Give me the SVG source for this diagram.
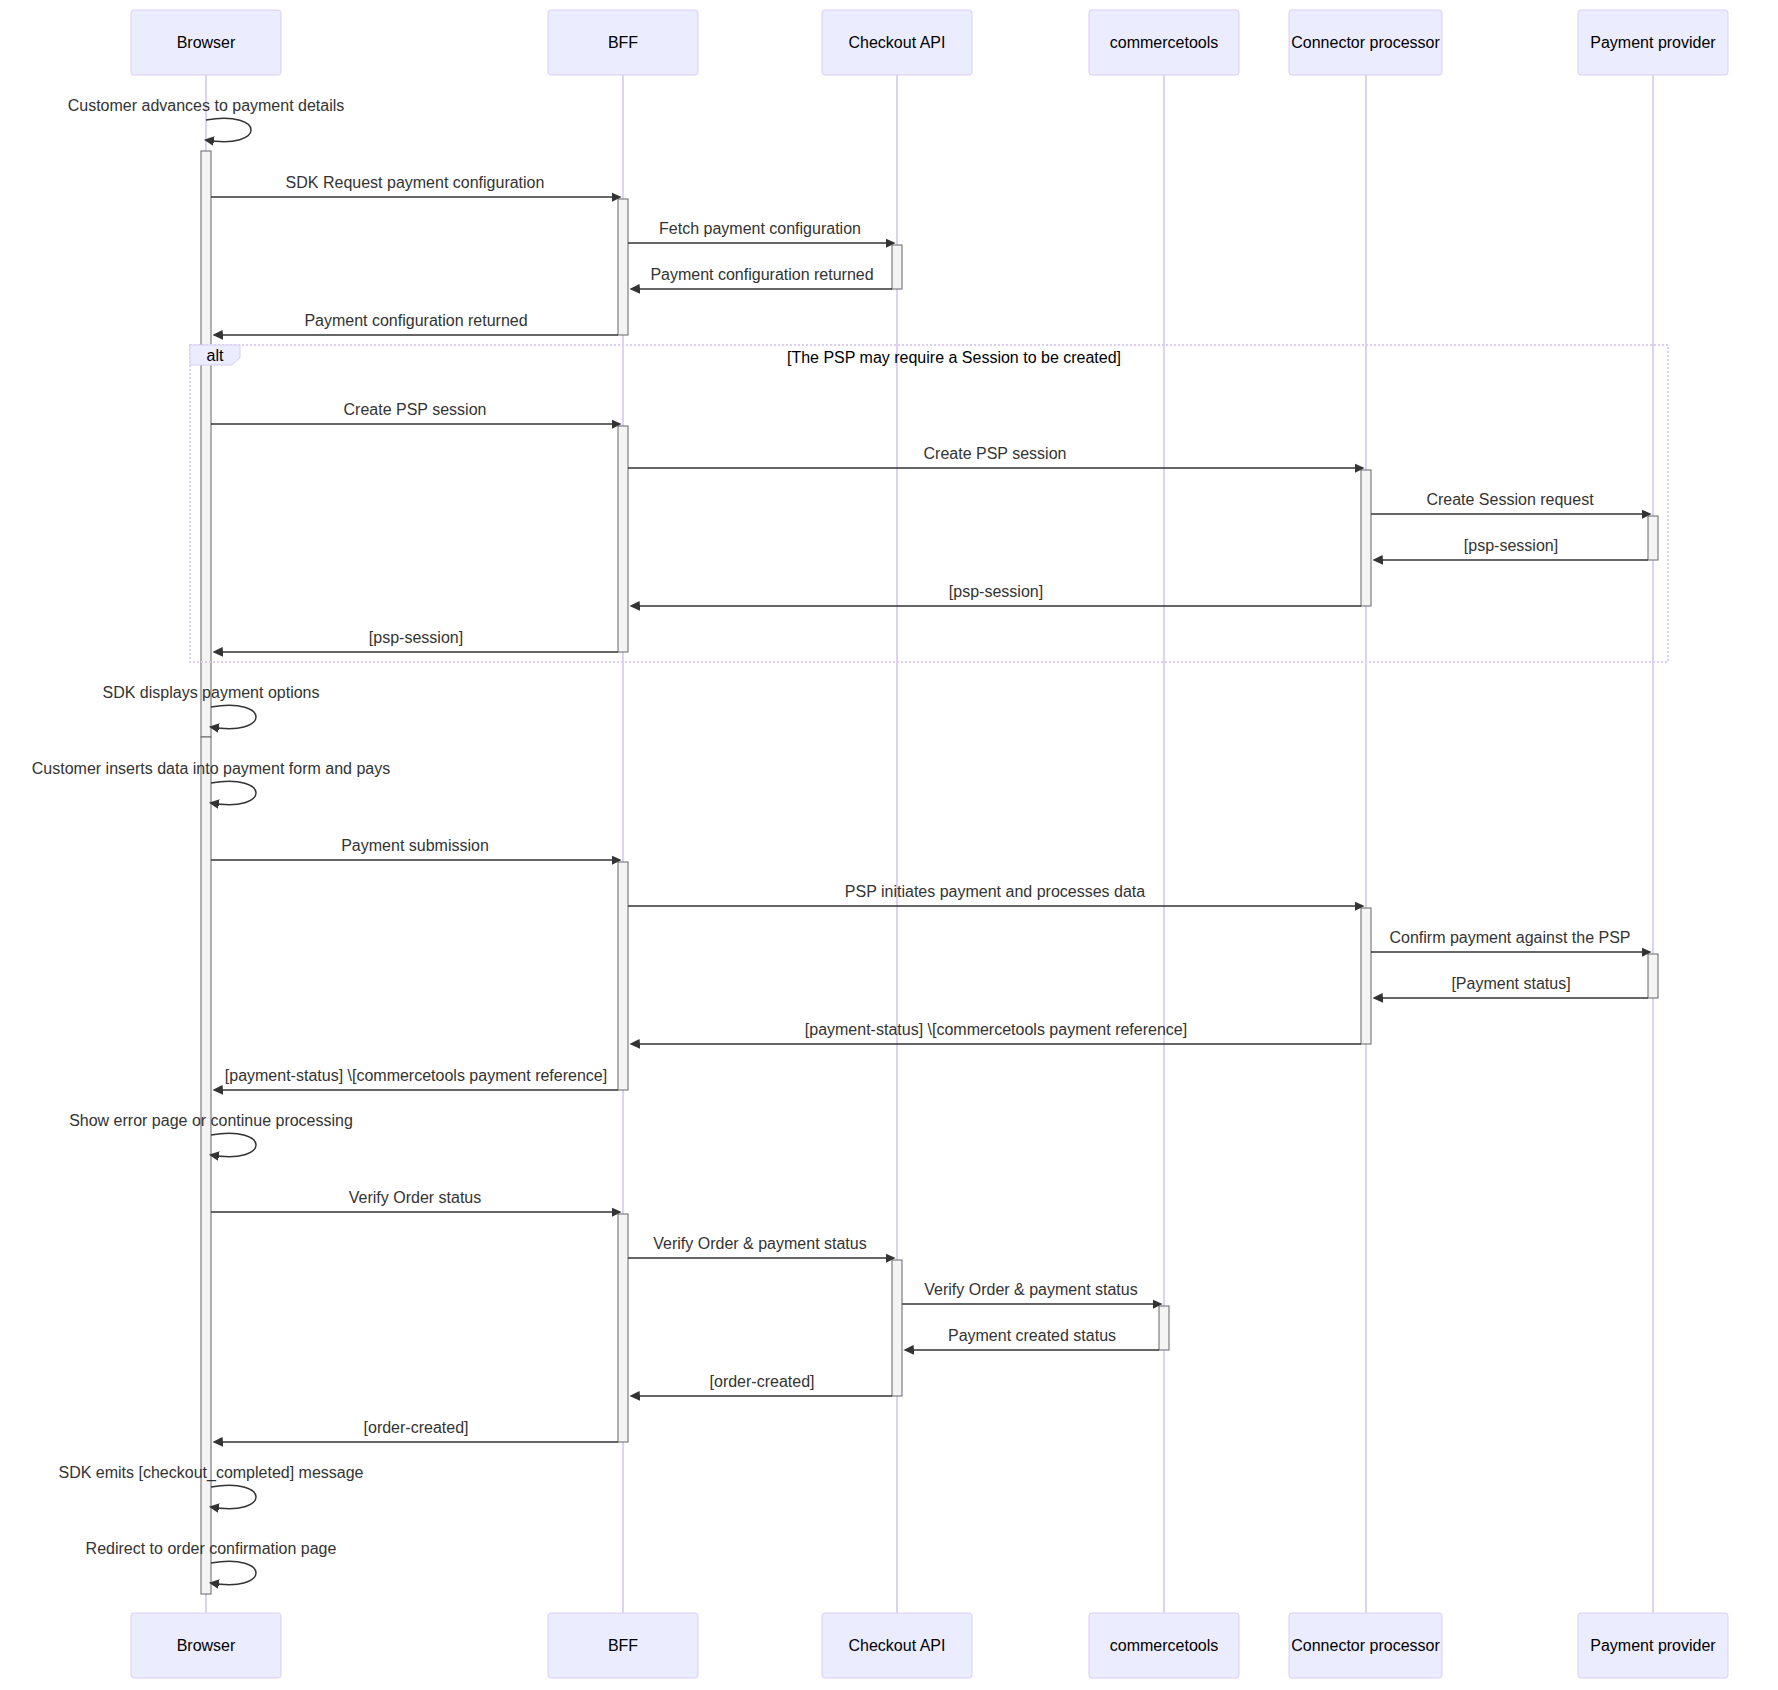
<svg xmlns="http://www.w3.org/2000/svg" width="1778" height="1690" viewBox="0 0 1778 1690">
<style>
text { font-family: "Liberation Sans", Arial, sans-serif; }
.actor rect { fill: #ECECFF; stroke: hsl(259.6, 59.8%, 87.9%); stroke-width: 1; }
.actor text { font-size: 16px; fill: #000; text-anchor: middle; dominant-baseline: central; }
.lifeline { stroke: hsl(259.6, 59.8%, 87.9%); stroke-width: 1.8; }
.act { fill: #f4f4f4; stroke: #666; stroke-width: 1; }
.msg { stroke: #333; stroke-width: 1.5; fill: none; marker-end: url(#arrowhead); }
.mt { font-size: 16px; fill: #333; text-anchor: middle; dominant-baseline: central; }
.loopline { stroke: hsl(259.6, 59.8%, 87.9%); stroke-width: 2; stroke-dasharray: 2 2; fill: none; }
.labelbox { fill: #ECECFF; stroke: hsl(259.6, 59.8%, 87.9%); stroke-width: 1; }
.lt { font-size: 16px; fill: #000; text-anchor: middle; dominant-baseline: central; }
</style>
<defs>
<marker id="arrowhead" refX="7.9" refY="5" markerUnits="userSpaceOnUse" markerWidth="12" markerHeight="12" orient="auto">
<path d="M -1 0 L 10 5 L 0 10 z" fill="#333" stroke="none"/>
</marker>
</defs>
<rect x="0" y="0" width="1778" height="1690" fill="#ffffff"/>

<g id="lifelines">
<line class="lifeline" x1="206" y1="75" x2="206" y2="1613"/>
<line class="lifeline" x1="623" y1="75" x2="623" y2="1613"/>
<line class="lifeline" x1="897" y1="75" x2="897" y2="1613"/>
<line class="lifeline" x1="1164" y1="75" x2="1164" y2="1613"/>
<line class="lifeline" x1="1366" y1="75" x2="1366" y2="1613"/>
<line class="lifeline" x1="1653" y1="75" x2="1653" y2="1613"/>
</g>

<g id="actor-browser" class="actor">
<rect x="131" y="10" width="150" height="65" rx="3"/><text x="206" y="42.5">Browser</text>
<rect x="131" y="1613" width="150" height="65" rx="3"/><text x="206" y="1645.5">Browser</text>
</g>
<g id="actor-bff" class="actor">
<rect x="548" y="10" width="150" height="65" rx="3"/><text x="623" y="42.5">BFF</text>
<rect x="548" y="1613" width="150" height="65" rx="3"/><text x="623" y="1645.5">BFF</text>
</g>
<g id="actor-checkout" class="actor">
<rect x="822" y="10" width="150" height="65" rx="3"/><text x="897" y="42.5">Checkout API</text>
<rect x="822" y="1613" width="150" height="65" rx="3"/><text x="897" y="1645.5">Checkout API</text>
</g>
<g id="actor-commercetools" class="actor">
<rect x="1089" y="10" width="150" height="65" rx="3"/><text x="1164" y="42.5">commercetools</text>
<rect x="1089" y="1613" width="150" height="65" rx="3"/><text x="1164" y="1645.5">commercetools</text>
</g>
<g id="actor-connector" class="actor">
<rect x="1289" y="10" width="153" height="65" rx="3"/><text x="1365.5" y="42.5">Connector processor</text>
<rect x="1289" y="1613" width="153" height="65" rx="3"/><text x="1365.5" y="1645.5">Connector processor</text>
</g>
<g id="actor-psp" class="actor">
<rect x="1578" y="10" width="150" height="65" rx="3"/><text x="1653" y="42.5">Payment provider</text>
<rect x="1578" y="1613" width="150" height="65" rx="3"/><text x="1653" y="1645.5">Payment provider</text>
</g>

<g id="activations">
<rect class="act" x="201" y="151" width="10" height="586"/>
<rect class="act" x="201" y="737" width="10" height="857"/>
<rect class="act" x="618" y="199" width="10" height="136"/>
<rect class="act" x="618" y="426" width="10" height="226"/>
<rect class="act" x="618" y="862" width="10" height="228"/>
<rect class="act" x="618" y="1214" width="10" height="228"/>
<rect class="act" x="892" y="245" width="10" height="44"/>
<rect class="act" x="892" y="1260" width="10" height="136"/>
<rect class="act" x="1159" y="1306" width="10" height="44"/>
<rect class="act" x="1361" y="470" width="10" height="136"/>
<rect class="act" x="1361" y="908" width="10" height="136"/>
<rect class="act" x="1648" y="516" width="10" height="44"/>
<rect class="act" x="1648" y="954" width="10" height="44"/>
</g>

<g id="alt-fragment">
<rect class="loopline" x="190" y="345" width="1478" height="317"/>
<polygon class="labelbox" points="190,345 240,345 240,358 231.6,365 190,365"/>
<text class="lt" x="215" y="355.5">alt</text>
<text class="lt" x="954" y="357">[The PSP may require a Session to be created]</text>
</g>

<g id="connectors">
<text class="mt" x="206" y="105">Customer advances to payment details</text>
<path class="msg" d="M 206,120 C 266,110 266,150 206,140"/>

<text class="mt" x="415" y="182.5">SDK Request payment configuration</text>
<line class="msg" x1="211" y1="197" x2="619.5" y2="197"/>
<text class="mt" x="760" y="228.5">Fetch payment configuration</text>
<line class="msg" x1="628" y1="243" x2="893.5" y2="243"/>
<text class="mt" x="762" y="274.5">Payment configuration returned</text>
<line class="msg" x1="892" y1="289" x2="631.6" y2="289"/>
<text class="mt" x="416" y="320.5">Payment configuration returned</text>
<line class="msg" x1="618" y1="335" x2="214.6" y2="335"/>

<text class="mt" x="415" y="409.5">Create PSP session</text>
<line class="msg" x1="211" y1="424" x2="619.5" y2="424"/>
<text class="mt" x="995" y="453.5">Create PSP session</text>
<line class="msg" x1="628" y1="468" x2="1362.5" y2="468"/>
<text class="mt" x="1510" y="499.5">Create Session request</text>
<line class="msg" x1="1371" y1="514" x2="1649.5" y2="514"/>
<text class="mt" x="1511" y="545.5">[psp-session]</text>
<line class="msg" x1="1648" y1="560" x2="1374.6" y2="560"/>
<text class="mt" x="996" y="591.5">[psp-session]</text>
<line class="msg" x1="1361" y1="606" x2="631.6" y2="606"/>
<text class="mt" x="416" y="637.5">[psp-session]</text>
<line class="msg" x1="618" y1="652" x2="214.6" y2="652"/>

<text class="mt" x="211" y="692.5">SDK displays payment options</text>
<path class="msg" d="M 211,707 C 271,697 271,737 211,727"/>
<text class="mt" x="211" y="768.5">Customer inserts data into payment form and pays</text>
<path class="msg" d="M 211,783 C 271,773 271,813 211,803"/>

<text class="mt" x="415" y="845.5">Payment submission</text>
<line class="msg" x1="211" y1="860" x2="619.5" y2="860"/>
<text class="mt" x="995" y="891.5">PSP initiates payment and processes data</text>
<line class="msg" x1="628" y1="906" x2="1362.5" y2="906"/>
<text class="mt" x="1510" y="937.5">Confirm payment against the PSP</text>
<line class="msg" x1="1371" y1="952" x2="1649.5" y2="952"/>
<text class="mt" x="1511" y="983.5">[Payment status]</text>
<line class="msg" x1="1648" y1="998" x2="1374.6" y2="998"/>
<text class="mt" x="996" y="1029.5">[payment-status] \[commercetools payment reference]</text>
<line class="msg" x1="1361" y1="1044" x2="631.6" y2="1044"/>
<text class="mt" x="416" y="1075.5">[payment-status] \[commercetools payment reference]</text>
<line class="msg" x1="618" y1="1090" x2="214.6" y2="1090"/>

<text class="mt" x="211" y="1120.5">Show error page or continue processing</text>
<path class="msg" d="M 211,1135 C 271,1125 271,1165 211,1155"/>

<text class="mt" x="415" y="1197.5">Verify Order status</text>
<line class="msg" x1="211" y1="1212" x2="619.5" y2="1212"/>
<text class="mt" x="760" y="1243.5">Verify Order &amp; payment status</text>
<line class="msg" x1="628" y1="1258" x2="893.5" y2="1258"/>
<text class="mt" x="1031" y="1289.5">Verify Order &amp; payment status</text>
<line class="msg" x1="902" y1="1304" x2="1160.5" y2="1304"/>
<text class="mt" x="1032" y="1335.5">Payment created status</text>
<line class="msg" x1="1159" y1="1350" x2="905.6" y2="1350"/>
<text class="mt" x="762" y="1381.5">[order-created]</text>
<line class="msg" x1="892" y1="1396" x2="631.6" y2="1396"/>
<text class="mt" x="416" y="1427.5">[order-created]</text>
<line class="msg" x1="618" y1="1442" x2="214.6" y2="1442"/>

<text class="mt" x="211" y="1472.5">SDK emits [checkout_completed] message</text>
<path class="msg" d="M 211,1487 C 271,1477 271,1517 211,1507"/>
<text class="mt" x="211" y="1548.5">Redirect to order confirmation page</text>
<path class="msg" d="M 211,1563 C 271,1553 271,1593 211,1583"/>
</g>
</svg>
